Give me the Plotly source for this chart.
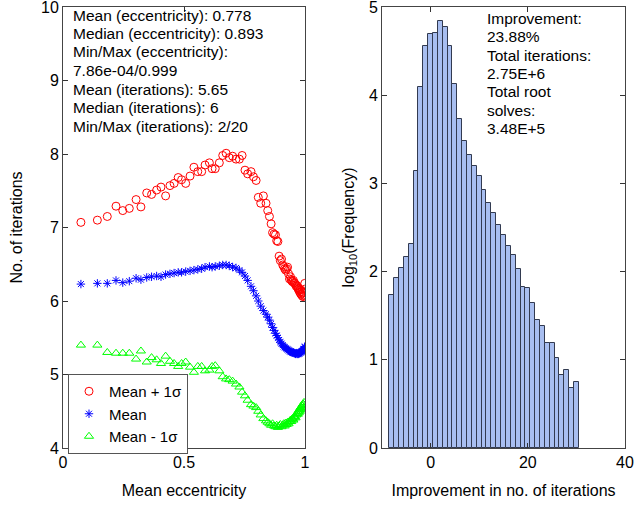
import plotly.graph_objects as go

# ---------------- data ----------------
ecc = [0.074, 0.142, 0.183, 0.219, 0.247, 0.274, 0.302, 0.322, 0.346, 0.366,
       0.387, 0.405, 0.424, 0.442, 0.459, 0.476, 0.490, 0.507, 0.525, 0.541,
       0.557, 0.573, 0.587, 0.605, 0.616, 0.629, 0.646, 0.660, 0.674, 0.687,
       0.701, 0.715, 0.729, 0.740, 0.752, 0.763, 0.777, 0.787, 0.798, 0.807,
       0.817, 0.828, 0.839, 0.846, 0.853,
       0.860, 0.866, 0.872, 0.878, 0.883, 0.888, 0.893, 0.898, 0.903, 0.908,
       0.912, 0.916, 0.920, 0.924, 0.928, 0.932, 0.936, 0.940, 0.943, 0.946,
       0.949, 0.952, 0.955, 0.958, 0.961, 0.964, 0.967, 0.970, 0.972, 0.974,
       0.976, 0.978, 0.980, 0.982, 0.984, 0.986, 0.988, 0.990, 0.992, 0.994,
       0.996, 0.998, 0.999]

mean_plus = [7.07, 7.10, 7.15, 7.29, 7.23, 7.26, 7.38, 7.28, 7.47, 7.45,
             7.51, 7.55, 7.43, 7.57, 7.60, 7.68, 7.65, 7.60, 7.70, 7.82,
             7.76, 7.76, 7.85, 7.88, 7.80, 7.80, 7.88, 7.98, 8.01, 7.95,
             7.97, 7.93, 7.93, 7.98, 7.78, 7.73, 7.76, 7.69, 7.64, 7.41,
             7.33, 7.43, 7.33, 7.23, 7.15,
             7.05, 6.93, 6.91, 6.90, 6.82, 6.81, 6.61, 6.55, 6.57, 6.49,
             6.47, 6.44, 6.42, 6.44, 6.46, 6.37, 6.30, 6.33, 6.29, 6.27,
             6.26, 6.28, 6.25, 6.24, 6.22, 6.20, 6.21, 6.18, 6.16, 6.17,
             6.14, 6.12, 6.15, 6.10, 6.09, 6.13, 6.07, 6.11, 6.06, 6.12,
             6.08, 6.16, 6.24]

mean_val = [6.23, 6.24, 6.24, 6.28, 6.25, 6.27, 6.31, 6.29, 6.32, 6.33,
            6.34, 6.33, 6.36, 6.37, 6.38, 6.39, 6.39, 6.40, 6.41, 6.42,
            6.43, 6.44, 6.46, 6.47, 6.46, 6.47, 6.48, 6.49, 6.49, 6.48,
            6.46, 6.45, 6.42, 6.39, 6.34, 6.28, 6.20, 6.14, 6.07, 6.00,
            5.93, 5.87, 5.82, 5.78, 5.74,
            5.69, 5.64, 5.60, 5.56, 5.53, 5.50, 5.47, 5.44, 5.42, 5.40,
            5.38, 5.37, 5.36, 5.35, 5.34, 5.33, 5.32, 5.31, 5.31, 5.30,
            5.30, 5.30, 5.29, 5.29, 5.28, 5.29, 5.28, 5.28, 5.29, 5.28,
            5.29, 5.29, 5.30, 5.30, 5.31, 5.31, 5.32, 5.32, 5.33, 5.34,
            5.35, 5.37, 5.38]

mean_minus = [5.40, 5.40, 5.30, 5.29, 5.29, 5.29, 5.21, 5.32, 5.17, 5.23,
              5.20, 5.15, 5.25, 5.18, 5.15, 5.11, 5.15, 5.17, 5.10, 5.03,
              5.11, 5.11, 5.05, 5.06, 5.11, 5.12, 5.05, 4.97, 4.94, 4.93,
              4.91, 4.87, 4.83, 4.76, 4.71, 4.65, 4.59, 4.57, 4.55, 4.50,
              4.45, 4.40, 4.37, 4.35, 4.33,
              4.31, 4.33, 4.30, 4.29, 4.31, 4.28, 4.30, 4.32, 4.29, 4.31,
              4.33, 4.30, 4.34, 4.32, 4.35, 4.33, 4.36, 4.38, 4.36, 4.39,
              4.40, 4.38, 4.42, 4.43, 4.41, 4.45, 4.47, 4.46, 4.50, 4.48,
              4.52, 4.50, 4.54, 4.53, 4.56, 4.55, 4.58, 4.57, 4.60, 4.59,
              4.62, 4.55, 4.52]

improvement_bins = list(range(-8, 31))
log_freq = [1.73, 1.93, 2.04, 2.16, 2.31, 3.14, 4.09, 4.56, 4.69, 4.70,
            4.84, 4.77, 4.56, 4.13, 3.73, 3.48, 3.32, 3.20, 3.08, 2.93,
            2.78, 2.67, 2.53, 2.41, 2.29, 2.19, 2.03, 1.83, 1.81, 1.64,
            1.45, 1.38, 1.19, 1.19, 1.02, 0.83, 0.88, 0.68, 0.75]

left_text = ["Mean (eccentricity): 0.778",
             "Median (eccentricity): 0.893",
             "Min/Max (eccentricity):",
             "7.86e-04/0.999",
             "Mean (iterations): 5.65",
             "Median (iterations): 6",
             "Min/Max (iterations): 2/20"]
right_text = ["Improvement:", "23.88%", "Total iterations:", "2.75E+6",
              "Total root", "solves:", "3.48E+5"]

# ---------------- figure ----------------
W, H = 642, 510
FONT = "Liberation Sans, Arial, sans-serif"

fig = go.Figure()
fig.add_trace(go.Scatter(x=ecc, y=mean_plus, mode="markers", name="Mean + 1σ",
                         marker=dict(symbol="circle-open", size=8, color="red",
                                     line=dict(width=1, color="red")),
                         xaxis="x", yaxis="y"))
fig.add_trace(go.Scatter(x=ecc, y=mean_val, mode="markers", name="Mean",
                         marker=dict(symbol="asterisk-open", size=7, color="blue",
                                     line=dict(width=1, color="blue")),
                         xaxis="x", yaxis="y"))
fig.add_trace(go.Scatter(x=ecc, y=mean_minus, mode="markers", name="Mean - 1σ",
                         marker=dict(symbol="triangle-up-open", size=8, color="#00ff00",
                                     line=dict(width=1, color="#00ff00")),
                         xaxis="x", yaxis="y"))
fig.add_trace(go.Bar(x=improvement_bins, y=log_freq, width=1.0, showlegend=False,
                     marker=dict(color="rgb(168,190,240)",
                                 line=dict(color="rgb(50,58,80)", width=1)),
                     xaxis="x2", yaxis="y2"))

def px_x(p):
    return p / W

def px_y(p):
    return 1 - p / H

ydom = [px_y(448), px_y(7)]
axis_common = dict(showgrid=False, zeroline=False, ticks="inside", ticklen=5,
                   tickcolor="#333", linecolor="#444", linewidth=1, mirror="ticks",
                   showline=True, tickfont=dict(size=16, color="black", family=FONT),
                   automargin=False, ticklabeloverflow="allow")

fig.update_layout(
    width=W, height=H, margin=dict(l=0, r=0, t=0, b=0),
    paper_bgcolor="white", plot_bgcolor="white",
    font=dict(family=FONT, color="black"),
    bargap=0,
    xaxis=dict(domain=[px_x(63), px_x(305)], range=[0, 1], tickvals=[0, 0.5, 1],
               ticktext=["0", "0.5", "1"], anchor="y",
               title=dict(text="Mean eccentricity", font=dict(size=16), standoff=14),
               **axis_common),
    yaxis=dict(domain=ydom, range=[4, 10], dtick=1, anchor="x",
               title=dict(text="No. of iterations", font=dict(size=16), standoff=14),
               **axis_common),
    xaxis2=dict(domain=[px_x(382), px_x(625)], range=[-10, 40], tickvals=[0, 20, 40],
                anchor="y2",
                title=dict(text="Improvement in no. of iterations", font=dict(size=16), standoff=14),
                **axis_common),
    yaxis2=dict(domain=ydom, range=[0, 5], dtick=1, anchor="x2",
                title=dict(text="log<sub>10</sub>(Frequency)", font=dict(size=16), standoff=10),
                **axis_common),
    legend=dict(x=px_x(68), y=px_y(374), xanchor="left", yanchor="top",
                bgcolor="white", bordercolor="#555", borderwidth=1,
                font=dict(size=15, family=FONT), tracegroupgap=0,
                itemsizing="trace"),
)

left_y = [15, 33.5, 52, 70.5, 89, 107.5, 126]
for t, yy in zip(left_text, left_y):
    fig.add_annotation(text=t, x=px_x(71), y=px_y(yy), xref="paper", yref="paper",
                       xanchor="left", yanchor="middle", showarrow=False,
                       font=dict(size=15.5, family=FONT, color="black"))
right_y = [18.3, 36.7, 55, 73.3, 91.7, 110, 128.3]
for t, yy in zip(right_text, right_y):
    fig.add_annotation(text=t, x=px_x(485), y=px_y(yy), xref="paper", yref="paper",
                       xanchor="left", yanchor="middle", showarrow=False,
                       font=dict(size=15.5, family=FONT, color="black"))

fig.write_html("out.html")
